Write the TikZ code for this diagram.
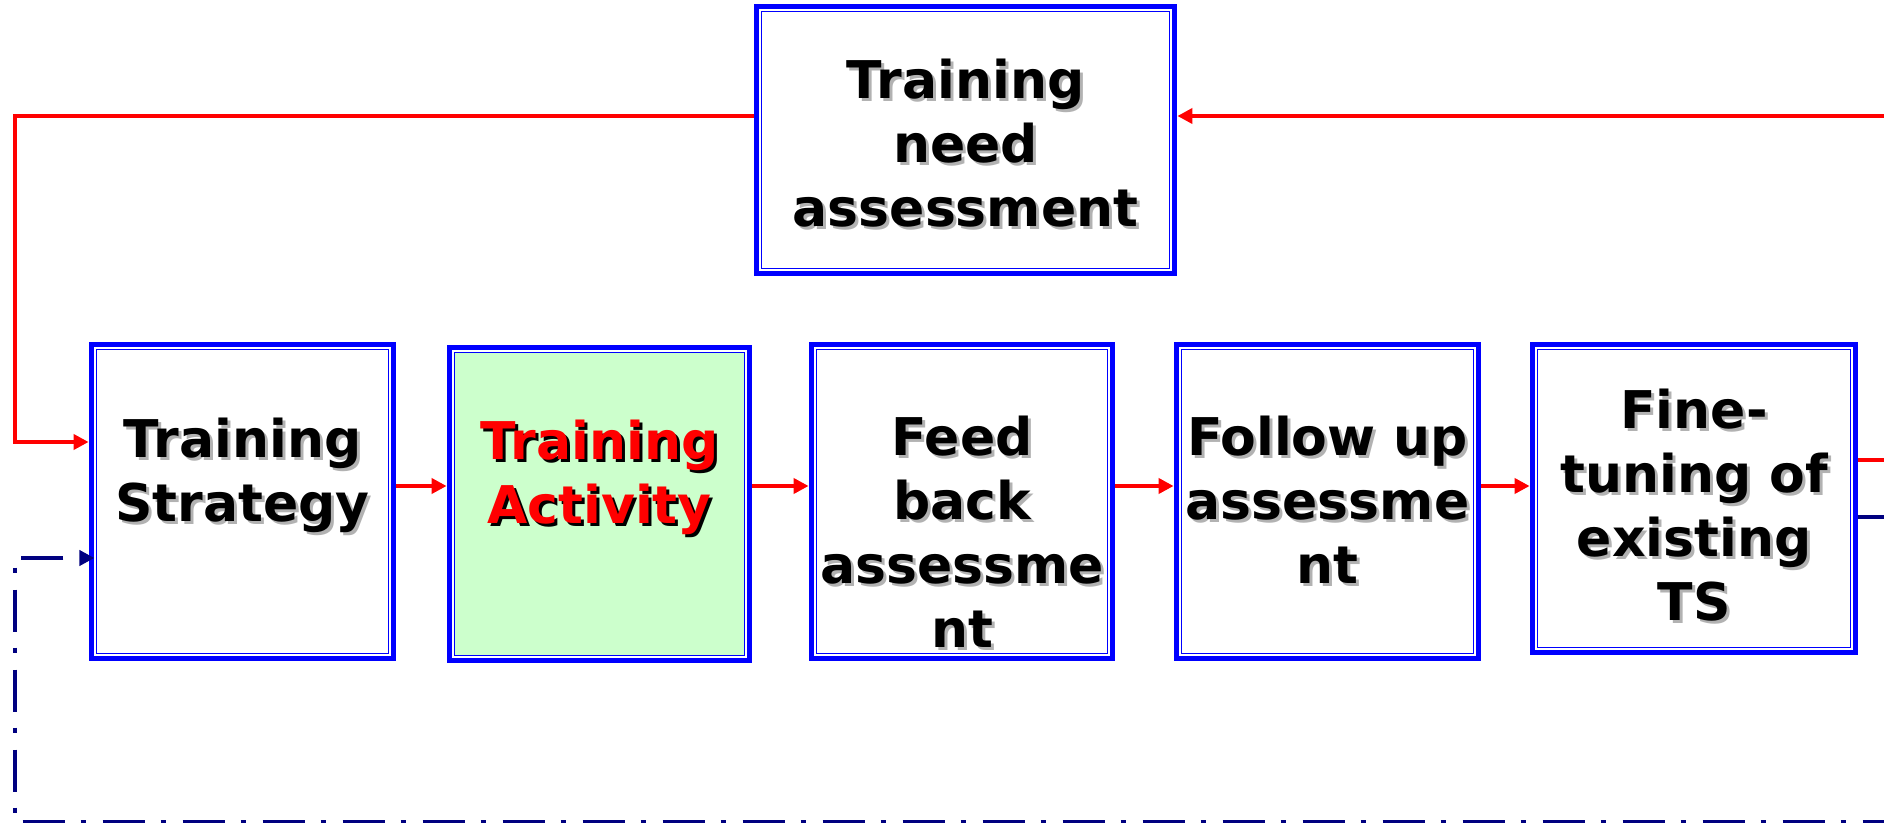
\documentclass[tikz,border=0pt]{standalone}
\usepackage{fontspec}
\newfontfamily\boxfont{DejaVu Sans}
\usetikzlibrary{arrows.meta}

\definecolor{boxblue}{RGB}{0,0,255}
\definecolor{flowred}{RGB}{255,0,0}
\definecolor{loopnavy}{RGB}{0,0,128}
\definecolor{actgreen}{RGB}{204,255,204}

% shaded text, as in the slide
\newcommand{\txtshade}[2][black!30]{\makebox[0pt][l]{\hspace{1.5pt}\raisebox{-1.5pt}{\textcolor{#1}{#2}}}#2}

\begin{document}
\begin{tikzpicture}[x=0.5pt, y=-0.5pt,
  stage/.style={fill=white, align=center, inner sep=0pt,
    preaction={draw=boxblue, line width=5.85pt},
    postaction={draw=boxblue, double=white, line width=0.85pt, double distance=0.85pt},
    font=\boxfont\bfseries\fontsize{26pt}{32pt}\selectfont},
  flow/.style={draw=flowred, line width=2.2pt},
  back/.style={draw=loopnavy, line width=2.4pt, dash pattern=on 21pt off 8pt on 2.5pt off 8.5pt},
  headend/.style={-{Triangle[length=7.5pt,width=7.5pt]}},
  fromnode/.style={shorten <=2.925pt},
  tonode/.style={shorten >=2.925pt}]
\useasboundingbox (0,0) rectangle (1884,823);

\node[stage, minimum width=205.65pt, minimum height=130.15pt] (tna) at (965.5,140)
  {\rule{0pt}{24pt}\txtshade{Training}\\\txtshade{need}\\\txtshade{assessment}};
\node[stage, minimum width=147.65pt, minimum height=153.65pt] (strat) at (242.5,501.5)
  {\txtshade{Training}\\\txtshade{Strategy}\\\mbox{}};
\node[stage, fill=actgreen, text=flowred, minimum width=146.65pt, minimum height=153.15pt] (act) at (599.5,504)
  {\txtshade[black]{Training}\\\txtshade[black]{Activity}\\\mbox{}};
\node[stage, minimum width=147.15pt, minimum height=153.65pt] (fb) at (962,501.5)
  {\rule{0pt}{51pt}\txtshade{Feed}\\\txtshade{back}\\\txtshade{assessme}\\\txtshade{nt}};
\node[stage, minimum width=147.65pt, minimum height=153.65pt] (fu) at (1327.5,501.5)
  {\txtshade{Follow up}\\\txtshade{assessme}\\\txtshade{nt}};
\node[stage, minimum width=158.15pt, minimum height=150.65pt] (ft) at (1694,498.5)
  {\rule{0pt}{28pt}\txtshade{Fine-}\\\txtshade{tuning of}\\\txtshade{existing}\\\txtshade{TS}};

\coordinate (topY) at (0,116);
\coordinate (loopL) at (15,116);
\coordinate (intoS) at (0,442);
\coordinate (rowY) at (0,486);
\coordinate (inR) at (1884,116);
\coordinate (outR) at (1884,460);
\coordinate (fbR) at (1884,517);
\coordinate (fbIn) at (0,558);
\coordinate (botL) at (15,822);
\coordinate (botR) at (1884,822);

% need assessment feeds the strategy
\draw[flow, fromnode, tonode, headend] (tna.west |- topY) -- (loopL) |- (strat.west |- intoS);
\draw[flow, tonode, headend] (inR) -- (tna.east |- inR);
% main row
\draw[flow, fromnode, tonode, headend] (strat.east |- rowY) -- (act.west |- rowY);
\draw[flow, fromnode, tonode, headend] (act.east |- rowY) -- (fb.west |- rowY);
\draw[flow, fromnode, tonode, headend] (fb.east |- rowY) -- (fu.west |- rowY);
\draw[flow, fromnode, tonode, headend] (fu.east |- rowY) -- (ft.west |- rowY);
\draw[flow, fromnode] (ft.east |- outR) -- (outR);
% feedback loop
\draw[back, fromnode] (ft.east |- fbR) -- (fbR);
\draw[back, dash phase=31.5pt, {Triangle[length=7.5pt,width=7.5pt]}-] (strat.west |- fbIn) -| (botL) -- (botR);
\end{tikzpicture}
\end{document}
